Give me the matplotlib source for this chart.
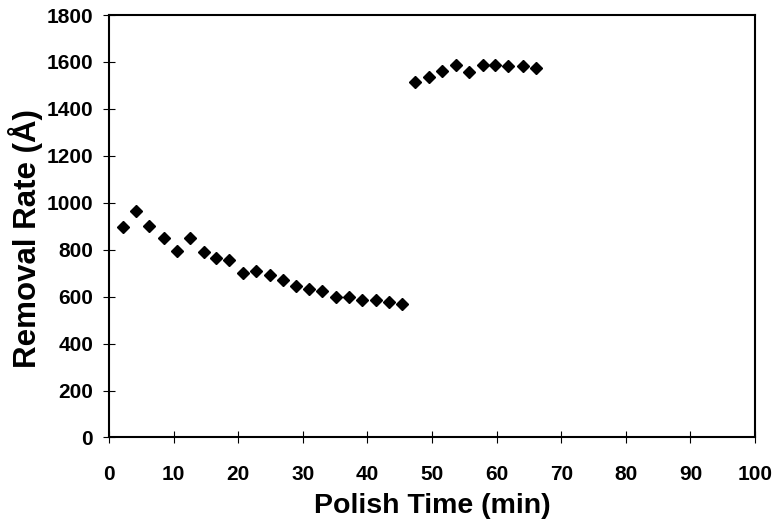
import matplotlib
matplotlib.use("Agg")
import matplotlib.pyplot as plt

# Polish time (min) and removal rate (Angstrom) for each run
time_min = [2.1, 4.1, 6.2, 8.5, 10.5, 12.6, 14.7, 16.6, 18.6, 20.7, 22.8,
            24.9, 26.9, 28.9, 30.9, 32.9, 35.1, 37.2, 39.2, 41.3, 43.3, 45.4,
            47.4, 49.6, 51.6, 53.7, 55.7, 57.9, 59.8, 61.8, 64.1, 66.1]
removal_rate = [895, 966, 899, 852, 795, 849, 792, 764, 758, 702, 711,
                692, 672, 646, 634, 626, 599, 600, 586, 586, 577, 569,
                1513, 1535, 1560, 1586, 1559, 1586, 1586, 1583, 1583, 1573]

x_ticks = list(range(0, 101, 10))
y_ticks = list(range(0, 1801, 200))

plt.rcParams['font.family'] = ['Liberation Sans', 'DejaVu Sans']
plt.rcParams['font.weight'] = 'bold'

fig = plt.figure(figsize=(7.76, 5.21), dpi=100)
ax = fig.add_axes([0.1405, 0.1603, 0.8325, 0.8109])

ax.plot(time_min, removal_rate, linestyle='none', marker='D',
        markersize=6.4, color='black')

ax.set_xlim(0, 100)
ax.set_ylim(0, 1800)
ax.set_xticks(x_ticks)
ax.set_yticks(y_ticks)

for s in ax.spines.values():
    s.set_linewidth(1.5)

ax.tick_params(axis='both', direction='inout', length=9, width=0.8,
               labelsize=15)
ax.tick_params(axis='x', pad=15)
ax.tick_params(axis='y', pad=7)
for lbl in ax.get_xticklabels() + ax.get_yticklabels():
    lbl.set_fontweight('bold')

ax.set_xlabel('Polish Time (min)', fontsize=20.5, fontweight='bold', labelpad=7)
ax.set_ylabel('Removal Rate (Å)', fontsize=22.5, fontweight='bold')
ax.yaxis.set_label_coords(-0.102, 0.47)

fig.savefig('out.png', dpi=100)
